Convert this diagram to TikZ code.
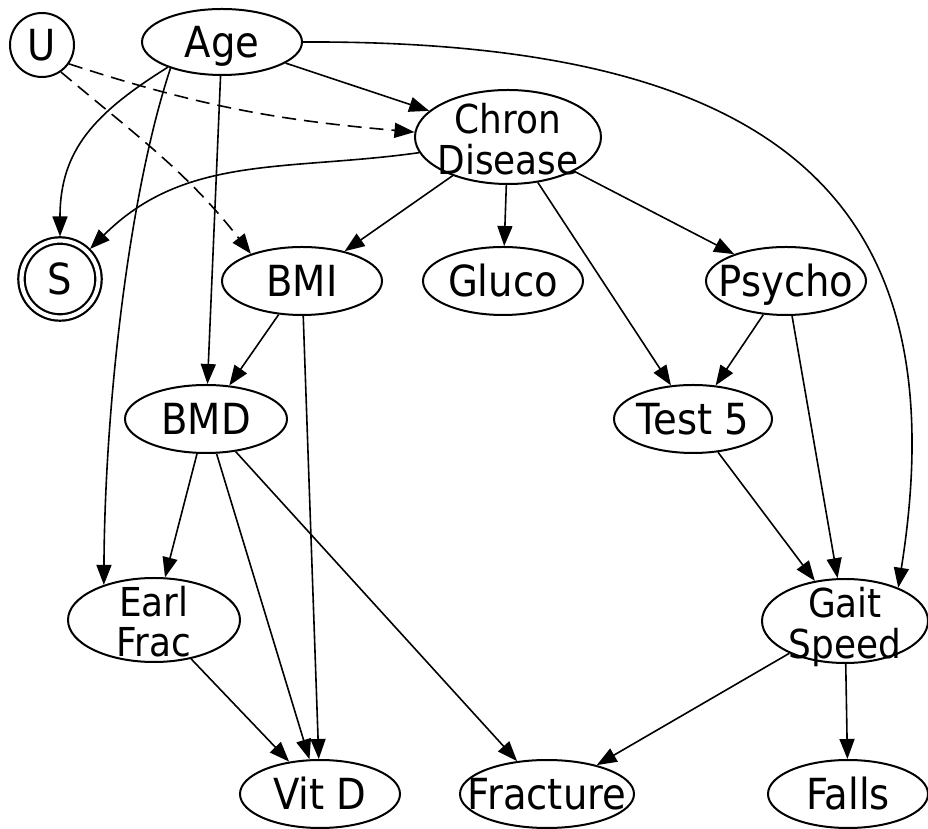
\documentclass[tikz,border=0pt]{standalone}
\usepackage{fontspec}
\setmainfont{DejaVu Sans}[FakeStretch=0.9]
\usetikzlibrary{shapes.geometric}
\usetikzlibrary{arrows.meta}

\newcommand{\nlab}[1]{\raisebox{-0.36em}{\makebox[0pt]{#1}}}
\newcommand{\nlabb}[2]{\raisebox{0.085em}{\makebox[0pt]{\begin{tabular}[t]{@{}c@{}}#1\\#2\end{tabular}}}}

\begin{document}
\begin{tikzpicture}[x=1bp, y=1bp,
    var/.style={ellipse, draw, line width=2bp, inner sep=0pt, text height=0pt, text depth=0pt,
        minimum width=#1, minimum height=68bp, font=\fontsize{43}{43}\selectfont},
    var/.default=160bp,
    var2/.style={var=#1, minimum height=84bp, font=\fontsize{40}{35}\selectfont},
    lat/.style={circle, draw, line width=2bp, inner sep=0pt, text height=0pt, text depth=0pt,
        minimum size=64bp, font=\fontsize{43}{43}\selectfont},
    edge/.style={-{Triangle[length=20bp, width=15bp]}, line width=1.6bp},
    hidden/.style={edge, dash pattern=on 14bp off 8bp}]
    \useasboundingbox (0,0) rectangle (928,829);
    \node[lat] (u) at (42,784) {\nlab{U}};
    \node[lat, line width=2.2bp, double, double distance=4.2bp, minimum size=77bp, outer sep=4bp] (s) at (60,550) {\nlab{S}};
    \node[var, minimum height=66bp] (age) at (222,787) {\nlab{Age}};
    \node[var2=186bp, minimum height=94bp] (chron) at (508,692) {\nlabb{Chron}{Disease}};
    \node[var] (bmi) at (302,548) {\nlab{BMI}};
    \node[var] (gluco) at (503,548) {\nlab{Gluco}};
    \node[var] (psy) at (786,548) {\nlab{Psycho}};
    \node[var=162bp] (bmd) at (206,410) {\nlab{BMD}};
    \node[var=158bp] (test) at (693,410) {\nlab{Test 5}};
    \node[var2=172bp] (earl) at (154,209) {\nlabb{Earl}{Frac}};
    \node[var2=166bp] (gait) at (845,208) {\nlabb{Gait}{Speed}};
    \node[var] (vitd) at (320,35) {\nlab{Vit D}};
    \node[var=174bp] (frac) at (547,35) {\nlab{Fracture}};
    \node[var] (falls) at (848,35) {\nlab{Falls}};

    \foreach \a/\b in {age/chron, age/bmd, chron/bmi, chron/gluco, chron/test, chron/psy,
        bmi/bmd, bmi/vitd, psy/test, psy/gait, bmd/earl, bmd/vitd, bmd/frac,
        test/gait, earl/vitd, gait/frac, gait/falls}
        \draw[edge] (\a) -- (\b);

    \draw[edge] (age.205) to[out=212, in=90, looseness=1.1] (s);
    \draw[edge] (age.207) .. controls (130,639) and (105,429) .. (earl.145);
    \draw[edge] (age.east) .. controls (780,789) and (960,629) .. (gait.32);
    \draw[edge] (chron.190) to[out=188, in=45] (s);
    \draw[hidden] (u.-35) to[out=-18, in=175] (chron.177);
    \draw[hidden] (u.-55) to[out=-40, in=128] (bmi.152);
\end{tikzpicture}
\end{document}
